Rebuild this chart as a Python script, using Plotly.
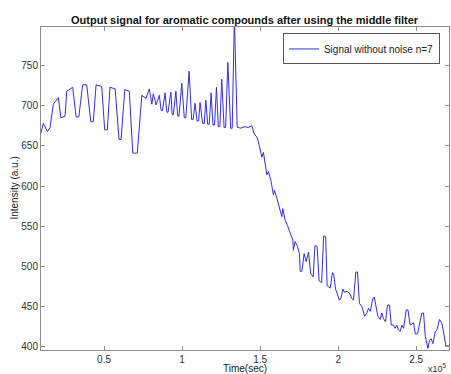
import plotly.graph_objects as go

# ---- data (time in seconds, intensity in a.u.) ----
t_start = [9600, 11100, 13700, 15400, 17500, 20700, 22400, 25000, 26100, 29900,
           32100, 33800, 36300, 38900, 41500, 43100, 44900, 48500, 50400, 52100,
           53800, 57100, 59600, 60900, 63300, 66200, 68400, 71300, 74200, 76900, 79000]
v_start = [666, 678, 668, 673, 702, 710, 685, 687, 718, 723,
           686, 686, 726, 726, 680, 680, 726, 724, 670, 670,
           723, 721, 658, 658, 720, 718, 641, 641, 713, 709, 721]

t_pulses = [80600, 81600, 83300, 85400, 86600, 87400, 89100, 90200, 91000, 92800,
            93600, 94400, 96000, 97200, 98000, 99800, 101400, 102400, 104500, 106100,
            107100, 108300, 109600, 110600, 111500, 113200, 114200, 115200, 116400, 117400,
            118600, 119800, 120800, 122000, 123200, 124200, 125400, 126900, 127900, 129300,
            131100, 132100, 133500, 135300, 136300]
v_pulses = [702, 715, 701, 713, 694, 694, 716, 692, 692, 717,
            689, 689, 718, 687, 687, 728, 685, 685, 743, 683,
            683, 703, 681, 681, 704, 678, 678, 707, 677, 677,
            716, 676, 676, 723, 674, 674, 733, 673, 673, 754,
            672, 672, 810, 673, 673]

t_descent = [137200, 140400, 142300, 143600, 144700, 146200, 147900, 148900, 150400, 151100,
             152100, 153200, 154300, 155300, 156900, 158500, 159200, 160700, 162400, 163900,
             164500, 166000, 167500, 168800, 169700, 171000, 171300, 172400, 173900, 175200]
v_descent = [672, 674, 673, 674, 675, 665, 661, 655, 642, 636,
             642, 628, 614, 618, 607, 589, 595, 585, 574, 562,
             572, 558, 551, 543, 539, 533, 520, 531, 525, 516]

t_tail = [175600, 176700, 178200, 179500, 181000, 182400, 184000, 185100, 186500, 187800,
          189400, 190700, 192000, 192900, 194900, 196300, 197100, 198300, 200800, 201900,
          203000, 204000, 205600, 207200, 208800, 209800, 211300, 212400, 213600, 215200,
          216900, 218400, 219400, 220500, 222200, 223100, 224400, 225400, 226900, 228000,
          229000, 230300, 231600, 232900, 234000, 235400, 236500, 237600, 238600, 239700,
          240800, 241900, 243600, 244700, 246100, 248300, 249400, 250800, 253600, 254700,
          255800, 257500, 258500, 259600, 260700, 262200, 263300, 264900, 266500, 267900,
          269000, 271000]
v_tail = [494, 494, 516, 506, 518, 491, 487, 526, 525, 482,
          480, 538, 537, 476, 473, 492, 491, 472, 458, 461,
          472, 468, 469, 467, 460, 458, 493, 493, 454, 450,
          438, 442, 448, 444, 460, 462, 446, 438, 434, 442,
          435, 431, 452, 452, 427, 427, 423, 427, 421, 419,
          427, 423, 446, 446, 427, 430, 416, 416, 442, 442,
          413, 398, 408, 410, 404, 419, 421, 434, 429, 413,
          401, 401]

x_tick_vals = [50000, 100000, 150000, 200000, 250000]
x_tick_text = ["0.5", "1", "1.5", "2", "2.5"]
y_tick_vals = [400, 450, 500, 550, 600, 650, 700, 750]

time_s = t_start + t_pulses + t_descent + t_tail
intensity = v_start + v_pulses + v_descent + v_tail

FONT = "Liberation Sans, Arial, sans-serif"

fig = go.Figure()
fig.add_trace(go.Scatter(
    x=time_s, y=intensity, mode="lines",
    line=dict(color="#3030e0", width=1),
    name="Signal without noise n=7",
))

axis_common = dict(
    showline=True, linecolor="#8c8c8c", linewidth=1, mirror="ticks",
    ticks="inside", ticklen=4, tickcolor="#8c8c8c",
    showgrid=False, zeroline=False,
    tickfont=dict(family=FONT, size=10, color="#333333"),
)

fig.update_layout(
    width=451, height=374,
    margin=dict(l=41, r=2, t=27, b=24),
    paper_bgcolor="white", plot_bgcolor="white",
    showlegend=True,
    legend=dict(
        x=0.593, y=0.98, xanchor="left", yanchor="top",
        bordercolor="#555555", borderwidth=1, bgcolor="white",
        font=dict(family=FONT, size=10, color="#222222"),
        itemwidth=30,
    ),
    xaxis=dict(range=[9600, 271000], tickvals=x_tick_vals, ticktext=x_tick_text,
               **axis_common),
    yaxis=dict(range=[396, 798], tickvals=y_tick_vals, **axis_common),
    annotations=[
        dict(text="<b>Output signal for aromatic compounds after using the middle filter</b>",
             xref="paper", yref="paper", x=0.5, y=1.023, xanchor="center", yanchor="middle",
             showarrow=False, font=dict(family=FONT, size=11, color="#111111")),
        dict(text="Time(sec)", xref="paper", yref="paper", x=0.5, y=-0.057,
             xanchor="center", yanchor="middle", showarrow=False,
             font=dict(family=FONT, size=10, color="#222222")),
        dict(text="Intensity (a.u.)", xref="paper", yref="paper", x=-0.066, y=0.5,
             xanchor="center", yanchor="middle", textangle=-90, showarrow=False,
             font=dict(family=FONT, size=10, color="#222222")),
        dict(text="x10<sup>5</sup>", xref="paper", yref="paper", x=0.972, y=-0.056,
             xanchor="center", yanchor="middle", showarrow=False,
             font=dict(family=FONT, size=9, color="#333333")),
    ],
)

fig.write_html("out.html")
